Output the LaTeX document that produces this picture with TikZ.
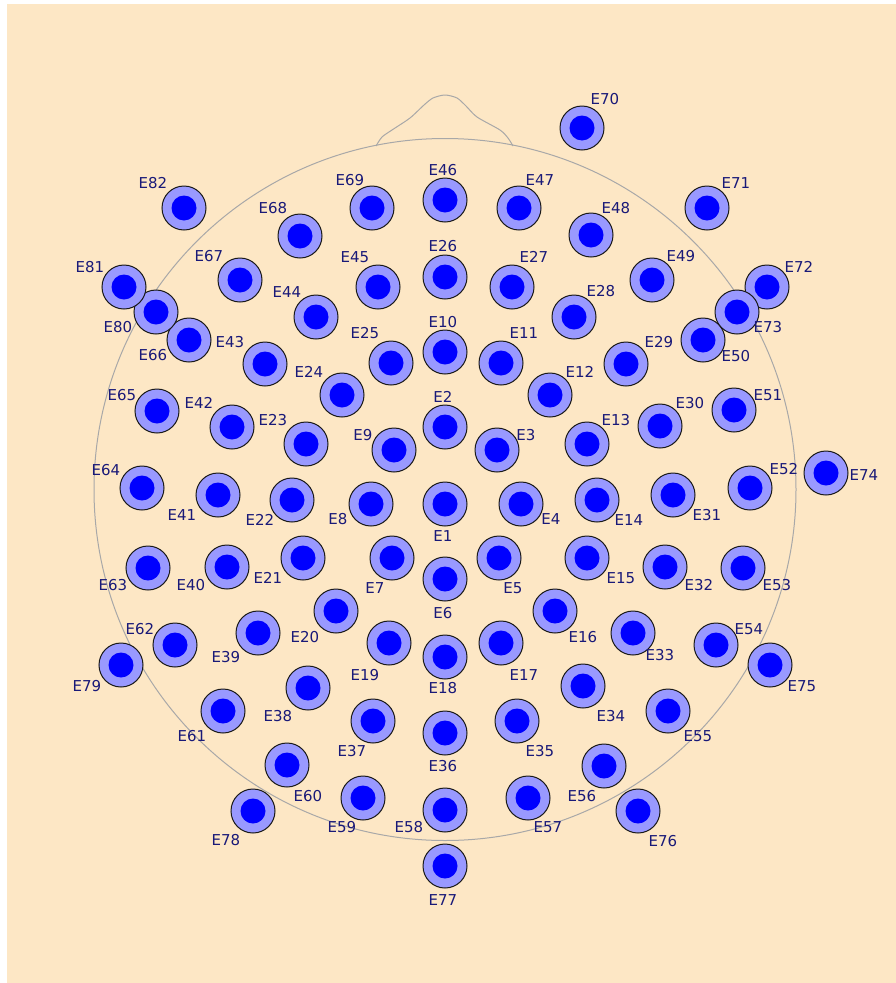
\documentclass[tikz,border=0pt]{standalone}
\usepackage{fontspec}
\setsansfont{DejaVu Sans}
\usetikzlibrary{calc}

\definecolor{scalpbg}{RGB}{253,231,197}
\definecolor{ringblue}{RGB}{153,153,255}
\definecolor{coreblue}{RGB}{0,0,255}
\definecolor{labelnavy}{RGB}{25,25,120}
\definecolor{headgray}{RGB}{168,168,168}

\begin{document}
\begin{tikzpicture}[
    x=1pt, y=-1pt,
    every node/.style={font=\sffamily},
    elec/.style={
      circle, draw=black!90, line width=1pt, fill=ringblue,
      minimum size=44pt, inner sep=0pt,
      path picture={\fill[coreblue] (path picture bounding box.center) circle[radius=12.5pt];}
    },
    elabel/.style={text=labelnavy, font=\fontsize{15}{15}\selectfont\sffamily, inner sep=0pt},
    headline/.style={draw=headgray, line width=1pt}
  ]
    \useasboundingbox (0,0) rectangle (896,983);
    \fill[scalpbg] (7,4) rectangle (896,983);

    % Head outline and nose
    \coordinate (head) at (445,489.5);
    \draw[headline] (head) circle[radius=351pt];
    \draw[headline] plot[smooth, tension=0.45] coordinates {
      (376,146) (382,137) (392,130) (410,118) (424,105) (433,98) (445,95)
      (457,98) (466,106) (477,117) (500,130) (508,138) (513,146)};

    % Electrodes: number / x / y / label x / label y
    \foreach \n/\x/\y/\lx/\ly in {
      1/445/504/443/536, 2/445/427/443/397, 3/497/450/526/435,
      4/521/504/551/519, 5/499/558/513/588, 6/445/579/443/613,
      7/392/558/375/588, 8/371/504/338/519, 9/394/450/363/435,
      10/445/352/443/322, 11/501/363/524/333, 12/550/395/580/372,
      13/587/444/616/420, 14/597/500/629/520, 15/587/558/621/578,
      16/555/611/583/637, 17/501/643/524/675, 18/445/657/443/688,
      19/389/643/365/675, 20/336/611/305/637, 21/303/558/268/578,
      22/292/500/260/520, 23/306/444/273/420, 24/342/395/309/372,
      25/391/363/365/333, 26/445/277/443/246, 27/512/287/534/257,
      28/574/317/601/291, 29/626/364/659/342, 30/660/426/690/403,
      31/673/495/707/515, 32/665/567/699/585, 33/633/633/660/655,
      34/583/686/611/716, 35/517/721/540/751, 36/445/733/443/766,
      37/373/721/352/751, 38/308/688/278/716, 39/258/633/226/657,
      40/227/567/191/585, 41/218/495/182/515, 42/232/427/199/403,
      43/265/364/230/342, 44/316/317/287/292, 45/378/287/355/257,
      46/445/200/443/170, 47/519/208/540/180, 48/591/235/616/208,
      49/652/280/681/256, 50/703/340/736/356, 51/734/410/768/395,
      52/750/488/784/469, 53/743/568/777/585, 54/716/645/749/629,
      55/668/711/698/736, 56/604/766/582/796, 57/528/798/548/827,
      58/445/810/409/827, 59/363/798/342/827, 60/287/765/308/796,
      61/223/711/192/736, 62/175/645/140/629, 63/148/568/113/585,
      64/142/488/106/470, 65/157/411/122/395, 66/189/340/153/355,
      67/240/280/209/256, 68/300/236/273/208, 69/372/208/350/180,
      70/582/128/605/99, 71/707/208/736/183, 72/767/287/799/267,
      73/737/312/768/327, 74/826/473/864/475, 75/770/665/802/686,
      76/638/811/663/841, 77/445/866/443/900, 78/253/811/226/840,
      79/121/665/87/686, 80/156/312/118/327, 81/124/287/90/267,
      82/184/208/153/183}
    {
      \node[elec] (e\n) at (\x,\y) {};
      \node[elabel] (l\n) at (\lx,\ly) {E\n};
    }
  \end{tikzpicture}
\end{document}
